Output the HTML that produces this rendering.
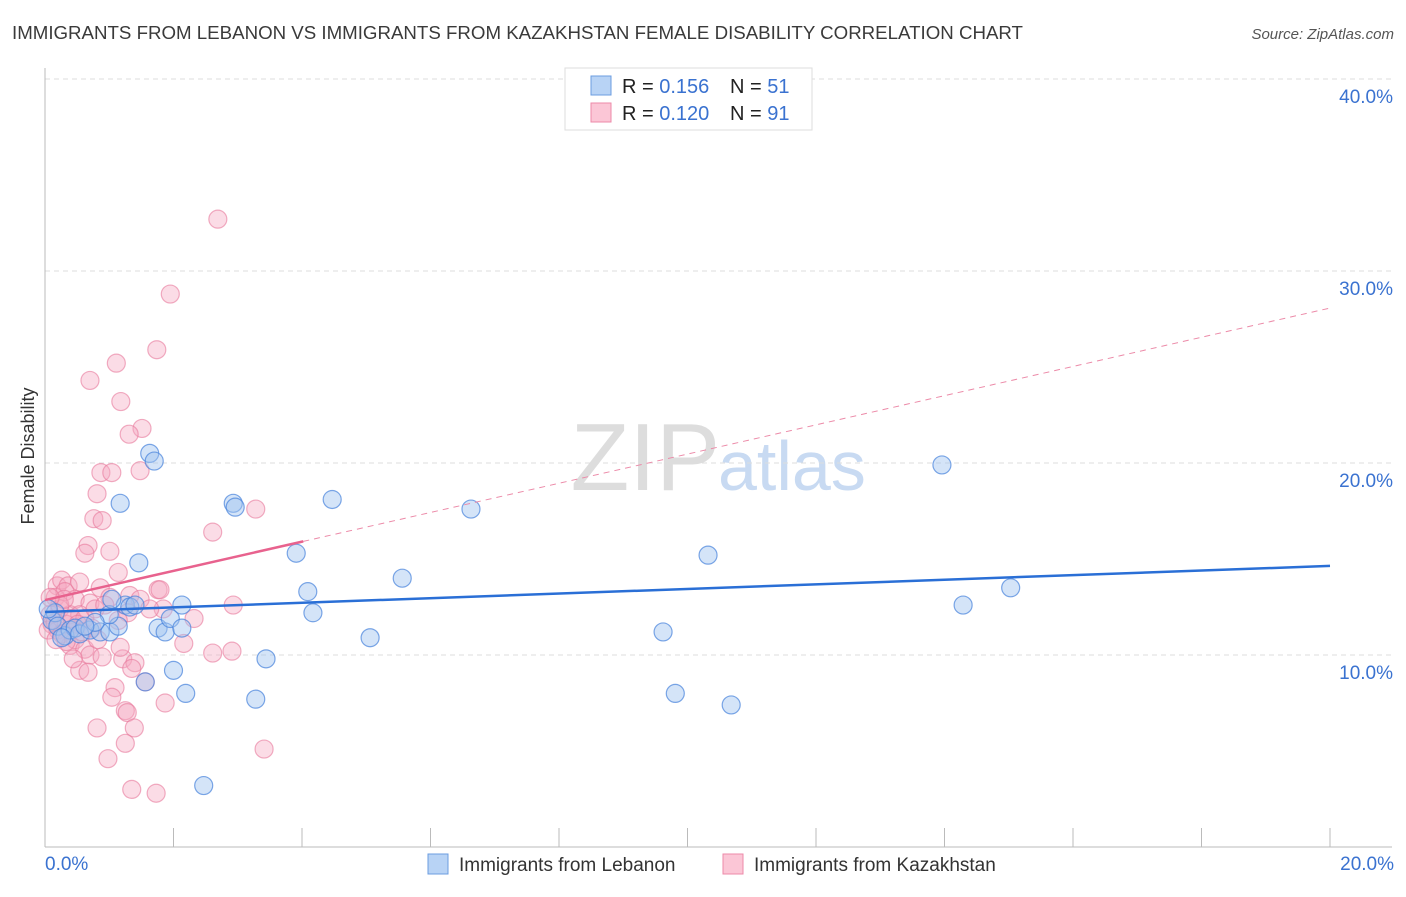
<!DOCTYPE html>
<html><head><meta charset="utf-8"><style>
body{margin:0;background:#fff;font-family:"Liberation Sans",sans-serif;}
svg text{font-family:"Liberation Sans",sans-serif;}
</style></head><body>
<svg id="chart" width="1406" height="892" xmlns="http://www.w3.org/2000/svg">
<text x="12" y="39" font-size="18.7" fill="#3a3a3a">IMMIGRANTS FROM LEBANON VS IMMIGRANTS FROM KAZAKHSTAN FEMALE DISABILITY CORRELATION CHART</text>
<text x="1394" y="39" font-size="15" fill="#555" text-anchor="end" font-style="italic">Source: ZipAtlas.com</text>
<text x="720" y="490" font-size="96" fill="#ddd" text-anchor="end" font-family="Liberation Serif">ZIP</text>
<text x="718" y="490" font-size="70" fill="#c8daf2">atlas</text>
<g id="grid"></g>
<g id="axes"></g>
<g id="marks"></g>
<text transform="translate(34,456) rotate(-90)" font-size="18" fill="#333" text-anchor="middle">Female Disability</text>
<g>
<rect x="565" y="68" width="247" height="62" fill="#fff" stroke="#ddd"/>
<rect x="591" y="76" width="20" height="19" fill="#b8d3f5" stroke="#6b9de0"/>
<rect x="591" y="103" width="20" height="19" fill="#fbc6d6" stroke="#ec8aa8"/>
<text x="622" y="93" font-size="20" fill="#222">R = <tspan fill="#3a72d0">0.156</tspan></text>
<text x="730" y="93" font-size="20" fill="#222">N = <tspan fill="#3a72d0">51</tspan></text>
<text x="622" y="120" font-size="20" fill="#222">R = <tspan fill="#3a72d0">0.120</tspan></text>
<text x="730" y="120" font-size="20" fill="#222">N = <tspan fill="#3a72d0">91</tspan></text>
</g>
<g>
<rect x="428" y="854" width="20" height="20" fill="#b8d3f5" stroke="#6b9de0"/>
<text x="459" y="871" font-size="19" fill="#333">Immigrants from Lebanon</text>
<rect x="723" y="854" width="20" height="20" fill="#fbc6d6" stroke="#ec8aa8"/>
<text x="754" y="871" font-size="19" fill="#333">Immigrants from Kazakhstan</text>
</g>
</svg>
<script>
const yTicks=[10,20,30,40];
const yTickLabels=["10.0%","20.0%","30.0%","40.0%"];
const xTickLabels=["0.0%","20.0%"];
const blueX=[0.11,0.16,0.2,0.31,0.39,0.47,0.54,0.7,0.86,1.01,1.17,1.14,1.25,1.32,1.0,0.78,1.46,1.4,1.63,1.7,1.76,1.87,1.95,2.0,2.13,2.13,2.19,2.47,2.93,2.96,3.28,3.44,3.91,4.09,4.17,4.47,5.06,5.56,6.63,9.62,9.81,10.32,10.68,13.96,14.29,15.03,0.05,0.62,0.26,1.04,1.56];
const blueY=[11.8,12.2,11.5,11.0,11.3,11.4,11.1,11.3,11.2,11.2,17.9,11.5,12.6,12.5,12.1,11.7,14.8,12.6,20.5,20.1,11.4,11.2,11.9,9.2,12.6,11.4,8.0,3.2,17.9,17.7,7.7,9.8,15.3,13.3,12.2,18.1,10.9,14.0,17.6,11.2,8.0,15.2,7.4,19.9,12.6,13.5,12.4,11.5,10.9,12.9,8.6];
const pinkX=[2.69,1.95,1.74,1.11,0.7,1.18,1.51,1.31,0.87,1.04,1.48,0.81,0.76,0.89,1.01,0.67,0.62,1.14,2.61,3.28,0.19,0.26,0.36,0.54,0.86,0.16,0.31,0.47,0.7,1.01,1.32,1.76,1.84,2.32,2.93,1.29,0.23,0.39,0.54,0.08,0.11,0.2,0.33,0.42,0.62,0.78,0.93,0.05,0.16,0.26,0.39,0.47,0.62,0.7,0.54,0.67,1.21,1.4,1.35,2.61,2.91,2.16,1.09,1.04,1.25,1.28,1.56,1.87,0.81,1.39,0.98,1.25,1.35,1.73,3.41,0.23,0.3,0.51,0.58,0.73,0.82,0.33,0.17,0.08,1.14,1.48,1.63,0.89,1.79,1.17,0.44];
const pinkY=[32.7,28.8,25.9,25.2,24.3,23.2,21.8,21.5,19.5,19.5,19.6,18.4,17.1,17.0,15.4,15.7,15.3,14.3,16.4,17.6,13.6,13.9,13.6,13.8,13.5,13.0,13.3,12.9,12.7,13.0,13.1,13.4,12.4,11.9,12.6,12.2,12.4,12.1,12.1,12.1,11.6,11.3,11.6,11.9,11.9,12.4,12.6,11.3,11.7,11.1,10.5,10.8,10.3,10.0,9.2,9.1,9.8,9.6,9.3,10.1,10.2,10.6,8.3,7.8,7.1,7.0,8.6,7.5,6.2,6.2,4.6,5.4,3.0,2.8,5.1,12.6,12.9,11.6,11.2,11.4,10.8,10.7,10.8,13.0,11.8,12.9,12.4,9.9,13.4,10.4,9.8];
const blueLine=[12.24,14.64];
const pinkLine=[12.86,28.07];
const pinkSolidEnd=4.02;
const NS="http://www.w3.org/2000/svg";
const xs=v=>45+v/20*1285, ys=v=>847-v*19.2;
function mk(tag,attrs,parent){const e=document.createElementNS(NS,tag);for(const k in attrs)e.setAttribute(k,attrs[k]);parent.appendChild(e);return e;}
const grid=document.getElementById('grid'),axes=document.getElementById('axes'),marks=document.getElementById('marks');
yTicks.forEach((t,i)=>{
 const l=mk('line',{x1:45,x2:1392,y1:ys(t),y2:ys(t),stroke:'#ddd','stroke-dasharray':'5,4'},grid);
 
 
 const tx=mk('text',{x:1393,y:ys(t)+24,'font-size':19,fill:'#3a72d0','text-anchor':'end'},axes);
 tx.textContent=yTickLabels[i];
 
 
});
const ax=mk('line',{x1:45,x2:45,y1:68,y2:847,stroke:'#bbb'},axes);


const bx=mk('line',{x1:45,x2:1392,y1:847,y2:847,stroke:'#bbb'},axes);


for(let i=1;i<=10;i++){const t=mk('line',{x1:xs(i*2),x2:xs(i*2),y1:828,y2:847,stroke:'#bbb'},axes);
 
 }
const xl0=mk('text',{x:45,y:870,'font-size':19,fill:'#3a72d0'},axes);xl0.textContent=xTickLabels[0];


const xl1=mk('text',{x:1394,y:870,'font-size':19,fill:'#3a72d0','text-anchor':'end'},axes);xl1.textContent=xTickLabels[1];


pinkX.forEach((x,i)=>{const c=mk('circle',{cx:xs(x),cy:ys(pinkY[i]),r:9,fill:'rgba(246,168,192,0.4)',stroke:'rgba(232,120,155,0.6)','stroke-width':1.2},marks);
 
 });
blueX.forEach((x,i)=>{const c=mk('circle',{cx:xs(x),cy:ys(blueY[i]),r:9,fill:'rgba(160,195,240,0.45)',stroke:'rgba(70,130,220,0.7)','stroke-width':1.2},marks);
 
 });
const pv=x=>pinkLine[0]+(pinkLine[1]-pinkLine[0])*x/20;
const pd=mk('line',{x1:xs(pinkSolidEnd),y1:ys(pv(pinkSolidEnd)),x2:xs(20),y2:ys(pinkLine[1]),stroke:'#ec8aa8','stroke-width':1,'stroke-dasharray':'6,5'},marks);


const ps=mk('line',{x1:xs(0),y1:ys(pinkLine[0]),x2:xs(pinkSolidEnd),y2:ys(pv(pinkSolidEnd)),stroke:'#e8628e','stroke-width':2.5},marks);


const bl=mk('line',{x1:xs(0),y1:ys(blueLine[0]),x2:xs(20),y2:ys(blueLine[1]),stroke:'#2a6fd6','stroke-width':2.5},marks);


</script>
</body></html>
